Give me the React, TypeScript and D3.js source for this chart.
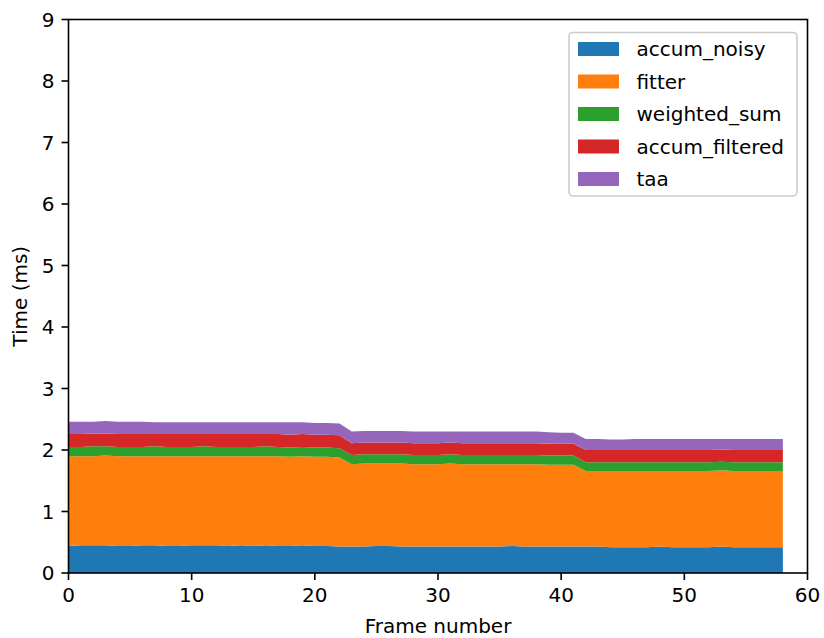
import React from "react";
import * as d3 from "d3";

// Per-frame GPU timings (ms) for each denoising pass
const frames: number[] = Array.from({ length: 59 }, (_, i) => i);

const accumNoisy: number[] = [
  0.44, 0.45, 0.45, 0.45, 0.44, 0.44, 0.45, 0.45, 0.44, 0.44, 0.45, 0.45, 0.45, 0.44, 0.45, 0.44, 0.45, 0.44, 0.44, 0.45, 0.44, 0.44, 0.43,
  0.43, 0.43, 0.44, 0.44, 0.43, 0.43, 0.43, 0.43, 0.43, 0.43, 0.43, 0.43, 0.43, 0.44, 0.43, 0.43, 0.43, 0.43, 0.43,
  0.43, 0.43, 0.42, 0.42, 0.42, 0.42, 0.43, 0.42, 0.42, 0.42, 0.42, 0.43, 0.42, 0.42, 0.42, 0.42, 0.42,
];
const fitter: number[] = [
  1.46, 1.45, 1.45, 1.46, 1.46, 1.46, 1.45, 1.45, 1.46, 1.46, 1.45, 1.45, 1.45, 1.46, 1.45, 1.46, 1.45, 1.46, 1.45, 1.45, 1.45, 1.45, 1.45,
  1.34, 1.35, 1.34, 1.34, 1.35, 1.34, 1.34, 1.34, 1.35, 1.34, 1.34, 1.34, 1.34, 1.33, 1.34, 1.34, 1.33, 1.33, 1.33,
  1.23, 1.23, 1.24, 1.24, 1.24, 1.24, 1.23, 1.24, 1.24, 1.24, 1.24, 1.24, 1.24, 1.24, 1.24, 1.24, 1.24,
];
const weightedSum: number[] = [
  0.15, 0.15, 0.16, 0.15, 0.15, 0.15, 0.15, 0.16, 0.15, 0.15, 0.15, 0.16, 0.15, 0.15, 0.15, 0.15, 0.16, 0.15, 0.15, 0.15, 0.15, 0.15, 0.15,
  0.15, 0.15, 0.15, 0.15, 0.15, 0.15, 0.15, 0.15, 0.15, 0.15, 0.15, 0.15, 0.15, 0.15, 0.15, 0.15, 0.15, 0.15, 0.15,
  0.14, 0.14, 0.14, 0.14, 0.14, 0.14, 0.14, 0.14, 0.14, 0.14, 0.14, 0.14, 0.14, 0.14, 0.14, 0.14, 0.14,
];
const accumFiltered: number[] = [
  0.21, 0.21, 0.21, 0.21, 0.21, 0.21, 0.21, 0.20, 0.21, 0.21, 0.21, 0.20, 0.21, 0.21, 0.21, 0.21, 0.20, 0.21, 0.21, 0.21, 0.21, 0.21, 0.21,
  0.19, 0.19, 0.19, 0.19, 0.19, 0.19, 0.19, 0.19, 0.19, 0.19, 0.19, 0.19, 0.19, 0.19, 0.19, 0.19, 0.19, 0.19, 0.19,
  0.20, 0.20, 0.20, 0.20, 0.20, 0.20, 0.20, 0.20, 0.20, 0.20, 0.20, 0.20, 0.20, 0.20, 0.20, 0.20, 0.20,
];
const taa: number[] = [
  0.20, 0.20, 0.19, 0.20, 0.20, 0.20, 0.20, 0.19, 0.19, 0.19, 0.19, 0.19, 0.19, 0.19, 0.19, 0.19, 0.19, 0.19, 0.20, 0.19, 0.19, 0.19, 0.19,
  0.19, 0.19, 0.19, 0.19, 0.19, 0.19, 0.19, 0.19, 0.18, 0.19, 0.19, 0.19, 0.19, 0.19, 0.19, 0.19, 0.19, 0.18, 0.18,
  0.18, 0.18, 0.17, 0.17, 0.18, 0.18, 0.18, 0.18, 0.18, 0.18, 0.18, 0.17, 0.18, 0.18, 0.18, 0.18, 0.18,
];

const seriesNames: string[] = ["accum_noisy", "fitter", "weighted_sum", "accum_filtered", "taa"];
const seriesColors: string[] = ["#1f77b4", "#ff7f0e", "#2ca02c", "#d62728", "#9467bd"];
const xTicks: number[] = [0, 10, 20, 30, 40, 50, 60];
const yTicks: number[] = [0, 1, 2, 3, 4, 5, 6, 7, 8, 9];

const W = 824;
const H = 638;
const M = { left: 68.5, right: 807.5, top: 19.5, bottom: 573 };
const FONT = "DejaVu Sans, sans-serif";
const FS = 20;

export default function App() {
  const seriesValues = [accumNoisy, fitter, weightedSum, accumFiltered, taa];
  const rows = frames.map((f, i) => {
    const r: Record<string, number> = { frame: f };
    seriesNames.forEach((n, k) => (r[n] = seriesValues[k][i]));
    return r;
  });
  const stacked = d3.stack<Record<string, number>>().keys(seriesNames)(rows);

  const x = d3.scaleLinear().domain([0, 60]).range([M.left, M.right]);
  const y = d3.scaleLinear().domain([0, 9]).range([M.bottom, M.top]);

  const area = d3
    .area<d3.SeriesPoint<Record<string, number>>>()
    .x((d) => x(d.data.frame))
    .y0((d) => y(d[0]))
    .y1((d) => y(d[1]));

  const tickLen = 7;
  const lw = 1.6;

  // legend geometry
  const lg = { x: 569, y: 32.5, w: 228, h: 163.5 };
  const rowGap = 32.5;

  return (
    <div style={{ position: "absolute", left: 0, top: 0 }}>
      <svg width={W} height={H} style={{ display: "block", background: "#fff" }}>
        <rect x={0} y={0} width={W} height={H} fill="#fff" />
        {stacked.map((s, k) => (
          <path key={s.key} d={area(s) || ""} fill={seriesColors[k]} stroke="none" />
        ))}

        {/* spines */}
        <rect
          x={M.left}
          y={M.top}
          width={M.right - M.left}
          height={M.bottom - M.top}
          fill="none"
          stroke="#000"
          strokeWidth={lw}
        />

        {/* x axis */}
        {xTicks.map((t) => (
          <g key={"x" + t}>
            <line x1={x(t)} x2={x(t)} y1={M.bottom} y2={M.bottom + tickLen} stroke="#000" strokeWidth={lw} />
            <text
              x={x(t)}
              y={M.bottom + tickLen + 7}
              dy="0.76em"
              textAnchor="middle"
              fontFamily={FONT}
              fontSize={FS}
              fill="#000"
            >
              {t}
            </text>
          </g>
        ))}
        <text x={(M.left + M.right) / 2} y={633} textAnchor="middle" fontFamily={FONT} fontSize={FS} fill="#000">
          Frame number
        </text>

        {/* y axis */}
        {yTicks.map((t) => (
          <g key={"y" + t}>
            <line x1={M.left - tickLen} x2={M.left} y1={y(t)} y2={y(t)} stroke="#000" strokeWidth={lw} />
            <text
              x={M.left - tickLen - 7}
              y={y(t)}
              dy="0.36em"
              textAnchor="end"
              fontFamily={FONT}
              fontSize={FS}
              fill="#000"
            >
              {t}
            </text>
          </g>
        ))}
        <text
          transform={`translate(27,${(M.top + M.bottom) / 2}) rotate(-90)`}
          textAnchor="middle"
          fontFamily={FONT}
          fontSize={FS}
          fill="#000"
        >
          Time (ms)
        </text>

        {/* legend */}
        <rect
          x={lg.x}
          y={lg.y}
          width={lg.w}
          height={lg.h}
          rx={4}
          fill="#fff"
          fillOpacity={0.8}
          stroke="#cccccc"
          strokeWidth={1.6}
        />
        {seriesNames.map((n, k) => {
          const cy = 49 + k * rowGap;
          return (
            <g key={"lg" + n}>
              <rect x={578} y={cy - 7} width={41} height={14} fill={seriesColors[k]} />
              <text x={636.5} y={cy} dy="0.36em" fontFamily={FONT} fontSize={FS} fill="#000">
                {n}
              </text>
            </g>
          );
        })}
      </svg>
    </div>
  );
}
